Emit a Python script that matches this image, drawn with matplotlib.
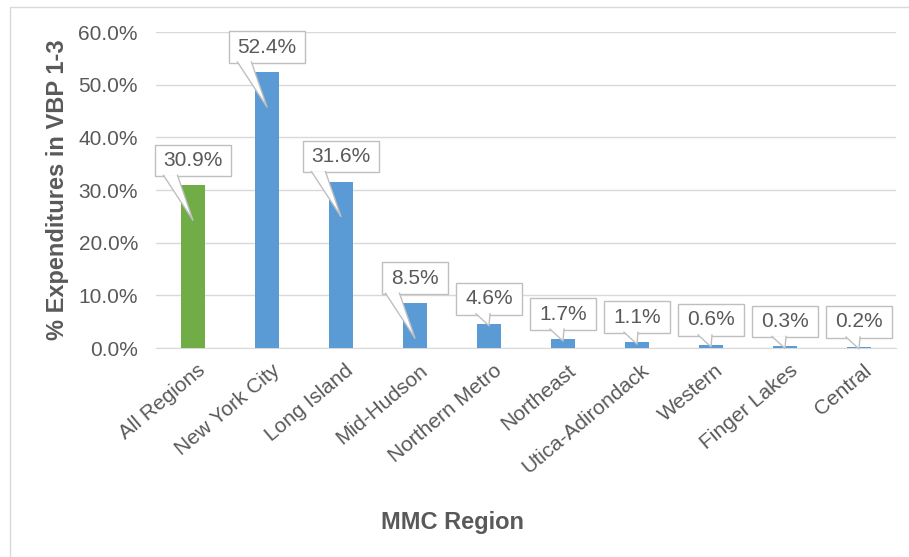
import numpy as np
import matplotlib.pyplot as plt
import matplotlib.patches as mpatches
import matplotlib.transforms as mtransforms
from matplotlib.path import Path

# data
regions = ['All Regions', 'New York City', 'Long Island', 'Mid-Hudson', 'Northern Metro',
           'Northeast', 'Utica-Adirondack', 'Western', 'Finger Lakes', 'Central']
share = [0.309, 0.524, 0.316, 0.085, 0.046, 0.017, 0.011, 0.006, 0.003, 0.002]
labels = ['30.9%', '52.4%', '31.6%', '8.5%', '4.6%', '1.7%', '1.1%', '0.6%', '0.3%', '0.2%']

grey = '#595959'
edge = '#bfbfbf'
plt.rcParams['font.family'] = ['Liberation Sans', 'DejaVu Sans']


def callout_box(x0, y0, width, height, mutation_size):
    '''square box with more room left/right than top/bottom, like excel callouts'''
    px = 0.42 * mutation_size
    py = 0.3 * mutation_size
    x0, y0 = x0 - px, y0 - py
    x1, y1 = x0 + width + 2 * px, y0 + height + 2 * py
    return Path([(x0, y0), (x1, y0), (x1, y1), (x0, y1), (x0, y0)], closed=True)


fig = plt.figure(figsize=(9.09, 5.57), dpi=100)
ax = fig.add_axes([0.1716, 0.3752, 0.8141, 0.5673])

# outer chart border
fig.patches.append(mpatches.Rectangle((0.011, -0.01), 1.0, 0.998, transform=fig.transFigure,
                                      fill=False, ec='#d9d9d9', lw=1))

x = np.arange(len(regions))
colors = ['#70ad47'] + ['#5b9bd5'] * (len(regions) - 1)
ax.bar(x, share, width=0.32, color=colors, zorder=3)

ax.set_ylim(0, 0.6)
ax.set_xlim(-0.5, len(regions) - 0.5)
ppu = ax.bbox.height / 0.6  # pixels per unit on y

# callout labels
for i, (v, lab) in enumerate(zip(share, labels)):
    ax.annotate(lab, xy=(i, v), xytext=(0, 25), textcoords='offset pixels',
                ha='center', va='center', fontsize=15, color=grey, zorder=5,
                bbox=dict(boxstyle=callout_box, fc='white', ec=edge, lw=1))
    # tail: from bottom-left part of the box down to the bar
    tip = -35 if v * ppu > 40 else -2
    base_y = 10
    bx = -0.5 * (base_y - tip)
    verts = np.array([[bx - 7, base_y], [0, tip], [bx + 7, base_y]]) / fig.dpi
    trans = fig.dpi_scale_trans + mtransforms.ScaledTranslation(i, v, ax.transData)
    ax.add_patch(mpatches.Polygon(verts, closed=True, fc='white', ec='none',
                                  transform=trans, zorder=6, clip_on=False))
    ax.plot(verts[:, 0], verts[:, 1], color=edge, lw=1, transform=trans,
            zorder=7, clip_on=False)

ax.set_yticks(np.arange(0, 0.61, 0.1))
ax.set_yticklabels(['%.1f%%' % (t * 100) for t in np.arange(0, 0.61, 0.1)],
                   fontsize=15, color=grey)
ax.yaxis.grid(True, color='#d9d9d9', lw=1, zorder=0)
ax.tick_params(axis='y', length=0, pad=13)
ax.tick_params(axis='x', length=0, pad=2)
for s in ['top', 'right', 'left']:
    ax.spines[s].set_visible(False)
ax.spines['bottom'].set_color('#d9d9d9')

ax.set_xticks(x)
ax.set_xticklabels(regions, rotation=40, ha='right', rotation_mode='anchor',
                   fontsize=15, color=grey)
shift = mtransforms.ScaledTranslation(4 / 100, -10 / 100, fig.dpi_scale_trans)
for t in ax.get_xticklabels():
    t.set_transform(t.get_transform() + shift)

ax.set_ylabel('% Expenditures in VBP 1-3', fontsize=17, fontweight='bold', color=grey)
ax.yaxis.set_label_coords(-0.117, 0.5)
ax.set_xlabel('MMC Region', fontsize=17, fontweight='bold', color=grey)
ax.xaxis.set_label_coords(0.401, -0.516)

plt.savefig('out.png', dpi=100)
plt.close()
